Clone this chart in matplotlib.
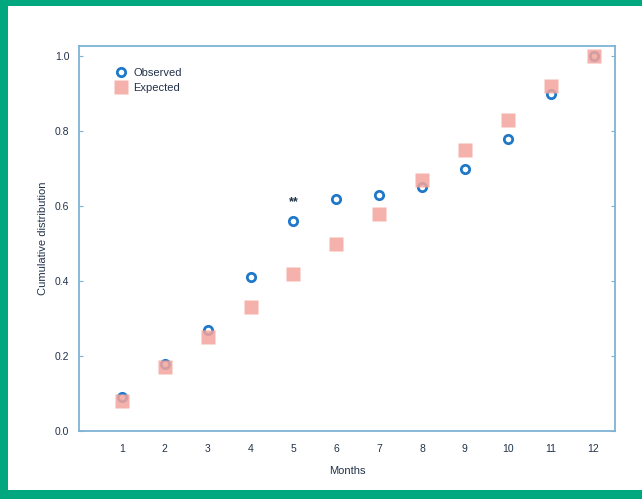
import matplotlib
matplotlib.use('agg')
import matplotlib.pyplot as plt
from matplotlib.patches import Rectangle

plt.rcParams['font.family'] = ['Liberation Sans', 'DejaVu Sans']

######## data ########
months   = [1, 2, 3, 4, 5, 6, 7, 8, 9, 10, 11, 12]
observed = [0.09, 0.18, 0.27, 0.41, 0.56, 0.62, 0.63, 0.65, 0.70, 0.78, 0.90, 1.00]
expected = [0.08, 0.17, 0.25, 0.33, 0.42, 0.50, 0.58, 0.67, 0.75, 0.83, 0.92, 1.00]
yticks   = [0.0, 0.2, 0.4, 0.6, 0.8, 1.0]
star_month, star_y = 5, 0.61

green = '#00a77f'
spine = '#7fb2d4'
txt   = '#22324a'

fig = plt.figure(figsize=(6.42, 4.99), dpi=100)
fig.patch.set_facecolor(green)
# white card inside the green frame
fig.patches.append(Rectangle((8/642., 9/499.), 1 - 8/642., 1 - 15/499.,
                             transform=fig.transFigure, facecolor='white',
                             edgecolor='none', zorder=-1))

ax = fig.add_axes([79/642., 68/499., 536/642., 385/499.])
ax.set_zorder(1)
ax.set_facecolor('white')

ax.plot(months, observed, linestyle='none', marker='o', markersize=6,
        markerfacecolor='none', markeredgecolor='#1f78c8', markeredgewidth=2,
        label='Observed', zorder=3)
ax.plot(months, expected, linestyle='none', marker='s', markersize=10,
        color='#f4a49c', markeredgecolor='none', alpha=0.85,
        label='Expected', zorder=4)

ax.text(star_month, star_y, '**', ha='center', va='center', fontsize=9,
        color=txt, fontweight='bold')

ax.set_xlim(0, 12.5)
ax.set_ylim(0, 1.027)
ax.set_xticks(months)
ax.set_xticks([2, 4, 6, 8, 10, 12], minor=True)
ax.set_yticks(yticks)
ax.set_yticklabels(['%.1f' % v for v in yticks])
ax.tick_params(axis='x', which='major', length=0, labelsize=7.5, colors=txt, pad=9)
ax.tick_params(axis='x', which='minor', length=3, direction='in', color=spine,
               top=True, bottom=True)
ax.tick_params(axis='y', length=3, direction='in', color=spine, labelsize=7.5,
               labelcolor=txt, left=True, right=True, pad=7)
for s in ax.spines.values():
    s.set_color(spine)
    s.set_linewidth(1.3)

ax.set_xlabel('Months', fontsize=8, color=txt, labelpad=9)
ax.set_ylabel('Cumulative distribution', fontsize=8, color=txt, labelpad=5)

leg = ax.legend(loc='upper left', bbox_to_anchor=(0.06, 0.955), frameon=False,
                fontsize=8, handlelength=1.0, handletextpad=0.6,
                labelspacing=0.5, borderaxespad=0)
for t in leg.get_texts():
    t.set_color(txt)

fig.savefig('out.png', dpi=100, facecolor=fig.get_facecolor())
